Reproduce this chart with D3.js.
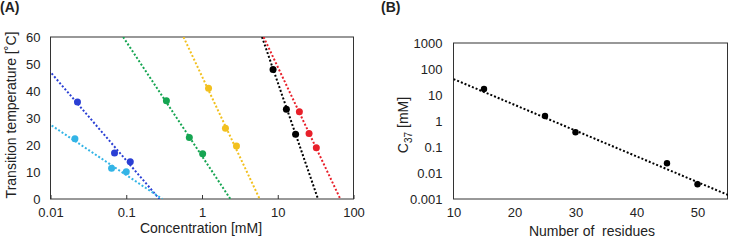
<!DOCTYPE html>
<html>
<head>
<meta charset="utf-8">
<script src="https://cdn.jsdelivr.net/npm/d3@7"></script>
<style>
  body { margin: 0; background: #fff; }
  text { font-family: "Liberation Sans", Arial, sans-serif; fill: #222; }
</style>
</head>
<body>
<div id="chart"></div>
<script>
// ---- data panel A: transition temperature vs concentration ----
const seriesNames = ["blue", "cyan", "green", "yellow", "black", "red"];
const seriesColors = ["#2a3fd4", "#33b4e6", "#16a552", "#f2c01e", "#000000", "#e8202a"];
const seriesConc = [
  [0.0227, 0.070, 0.113],
  [0.021, 0.064, 0.100],
  [0.339, 0.68, 1.02],
  [1.22, 2.04, 2.85],
  [8.67, 13.0, 17.2],
  [19.3, 25.9, 32.3]
];
const seriesTemp = [
  [35.9, 17.0, 13.8],
  [22.3, 11.4, 10.1],
  [36.4, 22.8, 16.8],
  [41.0, 26.2, 19.6],
  [48.0, 33.2, 24.0],
  [32.3, 24.3, 19.0]
];
// trend lines: concentration at 60 °C and at 0 °C
const trendConcAt60 = [0.0040, 0.00018, 0.091, 0.57, 6.2, 6.5];
const trendConcAt0 = [0.274, 0.30, 2.37, 5.77, 34, 67];
const xTicksA = [0.01, 0.1, 1, 10, 100];
const yTicksA = [0, 10, 20, 30, 40, 50, 60];

// ---- data panel B: C37 vs number of residues ----
const residues = [15, 25, 30, 45, 50];
const c37 = [17, 1.55, 0.37, 0.0236, 0.0037];
const trendResidues = [10, 55];
const trendC37 = [41, 0.00143];
const xTicksB = [10, 20, 30, 40, 50];
const yTicksB = [0.001, 0.01, 0.1, 1, 10, 100, 1000];

const svg = d3.select("#chart").append("svg")
  .attr("width", 729).attr("height", 240);

const line = d3.line();

// ================= Panel A =================
const xA = d3.scaleLog().domain([0.01, 100]).range([50.5, 353.5]);
const yA = d3.scaleLinear().domain([0, 60]).range([199, 37]);

svg.append("clipPath").attr("id", "clipA")
  .append("rect").attr("x", 50.5).attr("y", 37).attr("width", 303).attr("height", 162);

const gA = svg.append("g");

gA.append("g")
  .attr("transform", "translate(0,199)")
  .call(d3.axisBottom(xA).tickValues(xTicksA).tickFormat(d => d).tickSize(-4).tickPadding(9))
  .call(g => g.select(".domain").remove())
  .call(g => g.selectAll("line").attr("stroke", "#333"))
  .call(g => g.selectAll("text").attr("font-size", 13).attr("fill", "#222")
    .attr("font-family", "Liberation Sans, Arial, sans-serif"));

gA.append("g")
  .attr("transform", "translate(50.5,0)")
  .call(d3.axisLeft(yA).tickValues(yTicksA).tickSize(0).tickPadding(10))
  .call(g => g.select(".domain").remove())
  .call(g => g.selectAll("text").attr("font-size", 13).attr("fill", "#222")
    .attr("font-family", "Liberation Sans, Arial, sans-serif"));

gA.append("rect")
  .attr("x", 50.5).attr("y", 37).attr("width", 303).attr("height", 162)
  .attr("fill", "none").attr("stroke", "#333").attr("stroke-width", 1);

const seriesA = seriesNames.map((name, i) => ({
  name,
  color: seriesColors[i],
  points: seriesConc[i].map((c, j) => [c, seriesTemp[i][j]]),
  trend: [[trendConcAt60[i], 60], [trendConcAt0[i], 0]]
}));

gA.append("g").attr("clip-path", "url(#clipA)")
  .selectAll("path")
  .data(seriesA)
  .join("path")
  .attr("d", d => line(d.trend.map(p => [xA(p[0]), yA(p[1])])))
  .attr("fill", "none")
  .attr("stroke", d => d.color)
  .attr("stroke-width", 2)
  .attr("stroke-dasharray", "2 2");

seriesA.forEach(s => {
  gA.append("g").selectAll("circle")
    .data(s.points)
    .join("circle")
    .attr("cx", d => xA(d[0]))
    .attr("cy", d => yA(d[1]))
    .attr("r", 3.5)
    .attr("fill", s.color);
});

svg.append("text")
  .attr("x", 201).attr("y", 233)
  .attr("text-anchor", "middle").attr("font-size", 14)
  .text("Concentration [mM]");

svg.append("text")
  .attr("transform", "translate(16,115) rotate(-90)")
  .attr("text-anchor", "middle").attr("font-size", 14)
  .text("Transition temperature [˚C]");

svg.append("text")
  .attr("x", 0).attr("y", 12)
  .attr("font-size", 14).attr("font-weight", "bold")
  .text("(A)");

// ================= Panel B =================
const xB = d3.scaleLinear().domain([10, 55]).range([453.5, 728]);
const yB = d3.scaleLog().domain([0.001, 1000]).range([199, 43]);

svg.append("clipPath").attr("id", "clipB")
  .append("rect").attr("x", 453.5).attr("y", 43).attr("width", 274.5).attr("height", 156);

const gB = svg.append("g");

gB.append("g")
  .attr("transform", "translate(0,199)")
  .call(d3.axisBottom(xB).tickValues(xTicksB).tickSize(0).tickPadding(9))
  .call(g => g.select(".domain").remove())
  .call(g => g.selectAll("text").attr("font-size", 13).attr("fill", "#222")
    .attr("font-family", "Liberation Sans, Arial, sans-serif"));

gB.append("g")
  .attr("transform", "translate(453.5,0)")
  .call(d3.axisLeft(yB).tickValues(yTicksB).tickFormat(d => d).tickSize(0).tickPadding(11))
  .call(g => g.select(".domain").remove())
  .call(g => g.selectAll("text").attr("font-size", 13).attr("fill", "#222")
    .attr("font-family", "Liberation Sans, Arial, sans-serif"));

gB.append("rect")
  .attr("x", 453.5).attr("y", 43).attr("width", 274).attr("height", 156)
  .attr("fill", "none").attr("stroke", "#333").attr("stroke-width", 1);

gB.append("path")
  .attr("clip-path", "url(#clipB)")
  .attr("d", line(trendResidues.map((r, i) => [xB(r), yB(trendC37[i])])))
  .attr("fill", "none")
  .attr("stroke", "#000")
  .attr("stroke-width", 2)
  .attr("stroke-dasharray", "2 2");

gB.selectAll("circle.pt")
  .data(residues.map((r, i) => [r, c37[i]]))
  .join("circle")
  .attr("class", "pt")
  .attr("cx", d => xB(d[0]))
  .attr("cy", d => yB(d[1]))
  .attr("r", 3.2)
  .attr("fill", "#000");

svg.append("text")
  .attr("x", 592).attr("y", 236)
  .attr("text-anchor", "middle").attr("font-size", 14)
  .attr("xml:space", "preserve")
  .style("white-space", "pre")
  .text("Number of  residues");

const yLabB = svg.append("text")
  .attr("transform", "translate(408,125) rotate(-90)")
  .attr("text-anchor", "middle").attr("font-size", 14);
yLabB.append("tspan").text("C");
yLabB.append("tspan").attr("font-size", 10).attr("dy", 4).text("37");
yLabB.append("tspan").attr("dy", -4).text(" [mM]");

svg.append("text")
  .attr("x", 381).attr("y", 12)
  .attr("font-size", 14).attr("font-weight", "bold")
  .text("(B)");
</script>
</body>
</html>
